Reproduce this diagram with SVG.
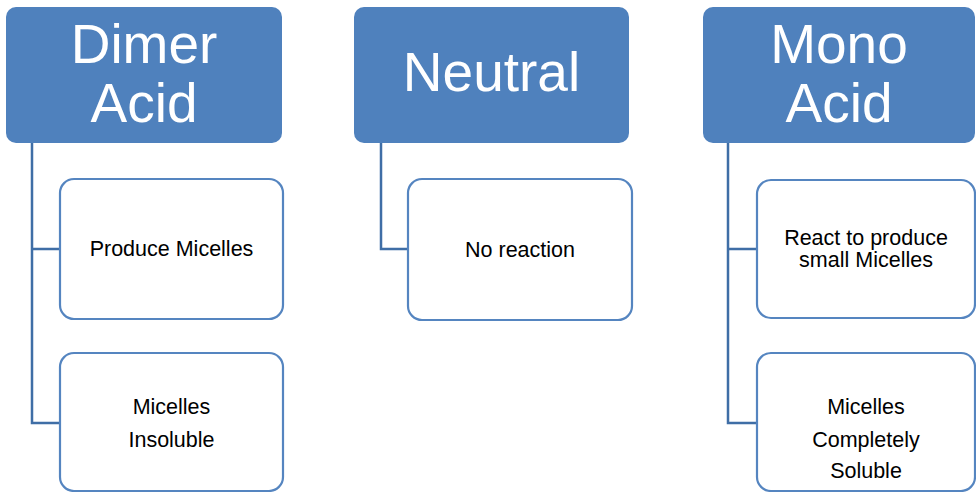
<svg xmlns="http://www.w3.org/2000/svg" width="976" height="492" viewBox="0 0 976 492">
<style>
.hdr{fill:#4F81BD;}
.hdrt{fill:#FFFFFF;font-family:"Liberation Sans",Arial,sans-serif;font-size:55px;text-anchor:middle;}
.child{fill:#FFFFFF;stroke:#5585C0;stroke-width:2.2;}
.ct{fill:#000000;font-family:"Liberation Sans",Arial,sans-serif;font-size:21.5px;text-anchor:middle;}
.conn{fill:none;stroke:#3F6EA6;stroke-width:2.5;}
</style>
<rect width="976" height="492" fill="#FFFFFF"/>
<g id="connectors">
<path class="conn" d="M32,143 V423 H60 M32,249 H60"/>
<path class="conn" d="M381,143 V249 H408"/>
<path class="conn" d="M728,143 V423 H757 M728,249 H757"/>
</g>
<g id="dimer">
<rect class="hdr" x="6" y="7" width="276" height="136" rx="10"/>
<text class="hdrt" x="144" y="63">Dimer</text>
<text class="hdrt" x="144" y="122">Acid</text>
</g>
<g id="dimer-produce">
<rect class="child" x="60" y="179" width="223" height="140" rx="14"/>
<text class="ct" x="171.5" y="256">Produce Micelles</text>
</g>
<g id="dimer-insoluble">
<rect class="child" x="60" y="353" width="223" height="138" rx="14"/>
<text class="ct" x="171.5" y="414">Micelles</text>
<text class="ct" x="171.5" y="447">Insoluble</text>
</g>
<g id="neutral">
<rect class="hdr" x="354" y="7" width="275" height="136" rx="10"/>
<text class="hdrt" x="491.5" y="91">Neutral</text>
</g>
<g id="neutral-none">
<rect class="child" x="408" y="179" width="224" height="141" rx="14"/>
<text class="ct" x="520" y="257">No reaction</text>
</g>
<g id="mono">
<rect class="hdr" x="703" y="7" width="272" height="136" rx="10"/>
<text class="hdrt" x="839" y="63">Mono</text>
<text class="hdrt" x="839" y="122">Acid</text>
</g>
<g id="mono-react">
<rect class="child" x="757" y="180" width="218" height="138" rx="14"/>
<text class="ct" x="866" y="245">React to produce</text>
<text class="ct" x="866" y="267">small Micelles</text>
</g>
<g id="mono-soluble">
<rect class="child" x="757" y="353" width="218" height="138" rx="14"/>
<text class="ct" x="866" y="414">Micelles</text>
<text class="ct" x="866" y="447">Completely</text>
<text class="ct" x="866" y="478">Soluble</text>
</g>
</svg>
